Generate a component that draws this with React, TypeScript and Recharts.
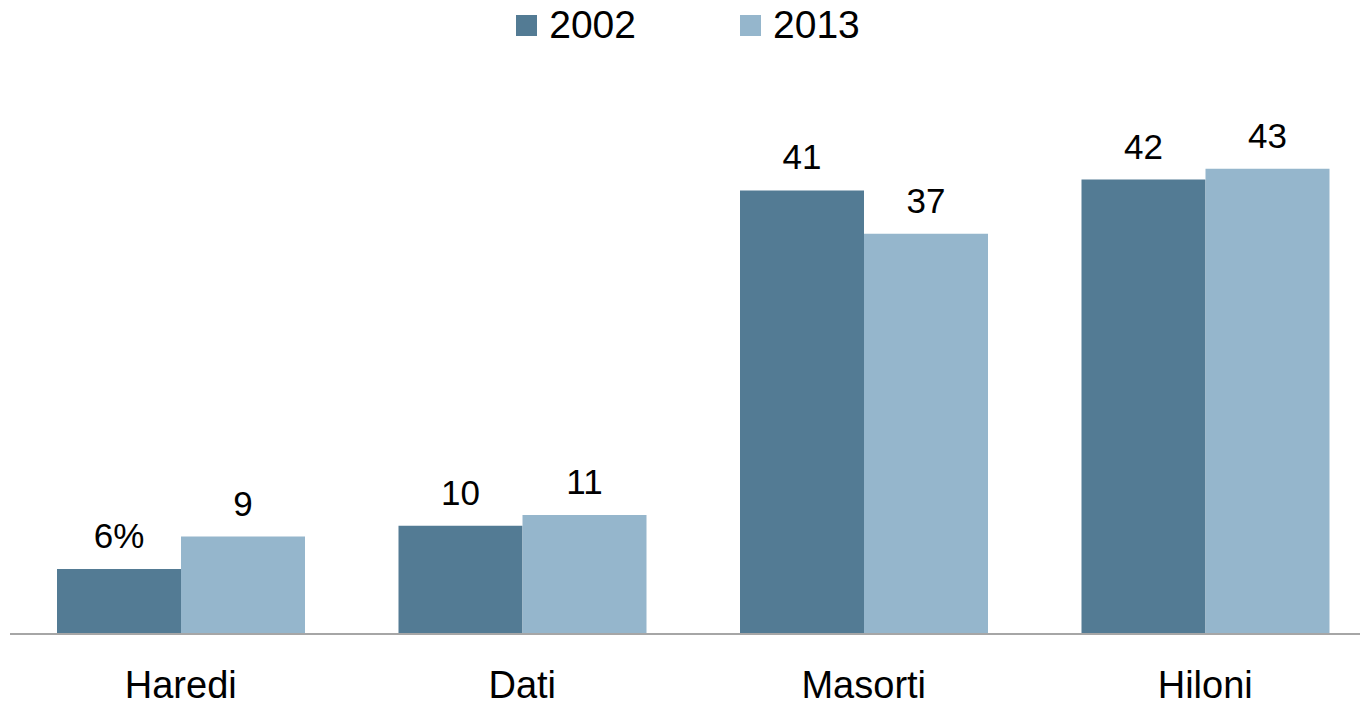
import React from "react";
import { BarChart, Bar, XAxis, YAxis, Legend, LabelList } from "recharts";

const categories = ["Haredi", "Dati", "Masorti", "Hiloni"];
const values2002 = [6, 10, 41, 42];
const values2013 = [9, 11, 37, 43];
const labels2002 = ["6%", "10", "41", "42"];
const labels2013 = ["9", "11", "37", "43"];
const seriesNames = ["2002", "2013"];
const colors = ["#537b94", "#95b6cc"];

const data = categories.map((c, i) => ({
  name: c,
  v2002: values2002[i],
  v2013: values2013[i],
  l2002: labels2002[i],
  l2013: labels2013[i],
}));

const FONT = "'Liberation Sans', Arial, sans-serif";

const LegendContent = () => (
  <div
    style={{
      height: 50,
      display: "flex",
      justifyContent: "center",
      alignItems: "center",
      fontFamily: FONT,
      fontSize: 39,
      color: "#000",
      paddingTop: 0,
    }}
  >
    {seriesNames.map((n, i) => (
      <div
        key={n}
        style={{
          display: "flex",
          alignItems: "center",
          marginRight: i === 0 ? 104 : 0,
        }}
      >
        <div style={{ width: 21, height: 21, background: colors[i], marginRight: 12 }} />
        <span style={{ lineHeight: "44px" }}>{n}</span>
      </div>
    ))}
  </div>
);

export default function App() {
  return (
    <div
      style={{
        position: "absolute",
        left: 0,
        top: 0,
        width: 1360,
        height: 706,
        overflow: "hidden",
        background: "#fff",
      }}
    >
      <BarChart
        width={1376}
        height={706}
        data={data}
        margin={{ top: 43, right: 0, bottom: 0, left: 10 }}
        barGap={0}
        barSize={124}
      >
        <Legend
          verticalAlign="top"
          align="center"
          content={<LegendContent />}
          wrapperStyle={{ top: 0, left: 0, width: 1376, height: 50 }}
        />
        <XAxis
          dataKey="name"
          height={72}
          tickLine={false}
          tickSize={0}
          tickMargin={37}
          axisLine={{ stroke: "#a6a6a6", strokeWidth: 2 }}
          tick={{ fill: "#000", fontSize: 38, fontFamily: FONT }}
          interval={0}
        />
        <YAxis hide domain={[0, 50]} />
        <Bar dataKey="v2002" name="2002" fill={colors[0]} isAnimationActive={false}>
          <LabelList
            dataKey="l2002"
            position="top"
            offset={21}
            style={{ fill: "#000", fontSize: 35, fontFamily: FONT }}
          />
        </Bar>
        <Bar dataKey="v2013" name="2013" fill={colors[1]} isAnimationActive={false}>
          <LabelList
            dataKey="l2013"
            position="top"
            offset={21}
            style={{ fill: "#000", fontSize: 35, fontFamily: FONT }}
          />
        </Bar>
      </BarChart>
    </div>
  );
}
